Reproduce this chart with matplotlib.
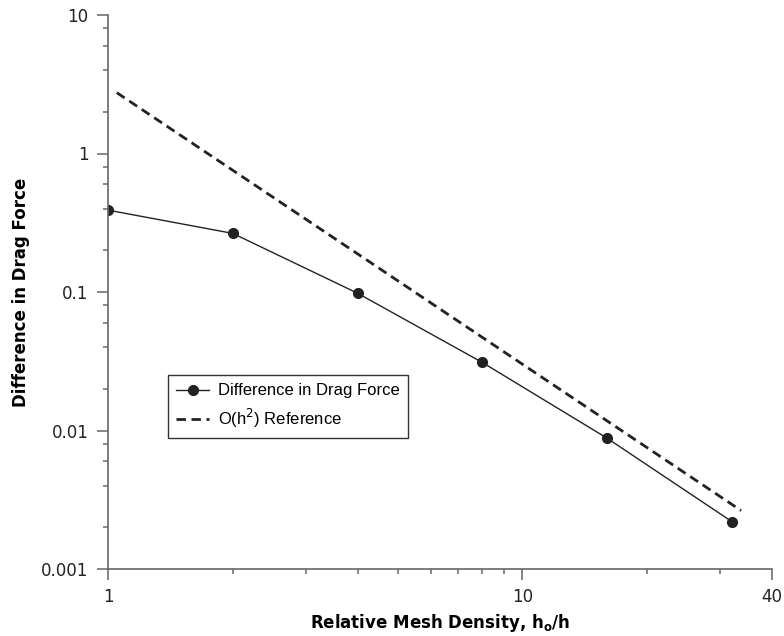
import numpy as np
import matplotlib
matplotlib.use("Agg")
import matplotlib.pyplot as plt
from matplotlib.ticker import FixedLocator, NullFormatter

# ==== data ====
mesh_density = [1, 2, 4, 8, 16, 32]
drag_diff = [0.39, 0.265, 0.098, 0.031, 0.0088, 0.0022]
ref_x = [1.05, 33.7]
ref_y = [2.75, 0.00264]

x_major = [1, 10, 40]
x_minor = [2, 3, 4, 5, 6, 7, 8, 9, 20, 30]
y_major = [0.001, 0.01, 0.1, 1, 10]
y_major_labels = ["0.001", "0.01", "0.1", "1", "10"]

# ==== plot ====
fig = plt.figure(figsize=(7.84, 6.36), dpi=100)
ax = fig.add_axes([108 / 784, 1 - 569 / 636, (772 - 108) / 784, (569 - 15) / 636])

ax.plot(mesh_density, drag_diff, color='#222222', linewidth=1.0, marker='o',
        markersize=7, label='Difference in Drag Force')
ax.plot(ref_x, ref_y, color='#222222', linewidth=2.0, linestyle=(0, (3.4, 2.0)),
        label='O(h$^2$) Reference')

ax.set_xscale('log')
ax.set_yscale('log')
ax.set_xlim(1, 40)
ax.set_ylim(0.001, 10)

ax.xaxis.set_major_locator(FixedLocator(x_major))
ax.xaxis.set_minor_locator(FixedLocator(x_minor))
ax.set_xticklabels([str(v) for v in x_major])
ax.xaxis.set_minor_formatter(NullFormatter())

minors = []
for d in [0.001, 0.01, 0.1, 1]:
    minors += [d * k for k in (2, 4, 6, 8)]
ax.yaxis.set_major_locator(FixedLocator(y_major))
ax.yaxis.set_minor_locator(FixedLocator(minors))
ax.set_yticklabels(y_major_labels)
ax.yaxis.set_minor_formatter(NullFormatter())

for s in ['top', 'right']:
    ax.spines[s].set_visible(False)
for s in ['left', 'bottom']:
    ax.spines[s].set_color('#666666')
    ax.spines[s].set_linewidth(1.2)

ax.tick_params(which='major', length=8, width=1.1, color='#666666',
               labelsize=12, labelcolor='#222222', pad=6)
ax.tick_params(which='minor', length=3.8, width=1.1, color='#666666')

ax.set_xlabel(r'Relative Mesh Density, $\mathbf{h_o/h}$', fontsize=12,
              fontweight='bold', labelpad=4)
ax.set_ylabel('Difference in Drag Force', fontsize=12, fontweight='bold',
              labelpad=8)

leg = ax.legend(loc='upper left', bbox_to_anchor=(0.09, 0.35), fancybox=False,
                edgecolor='#333333', framealpha=1, numpoints=1,
                prop={'family': 'Liberation Sans', 'size': 12},
                handlelength=2.0, handletextpad=0.5, borderpad=0.5,
                labelspacing=0.5, borderaxespad=0)
leg.get_frame().set_linewidth(1.0)

fig.savefig('out.png', dpi=100)
